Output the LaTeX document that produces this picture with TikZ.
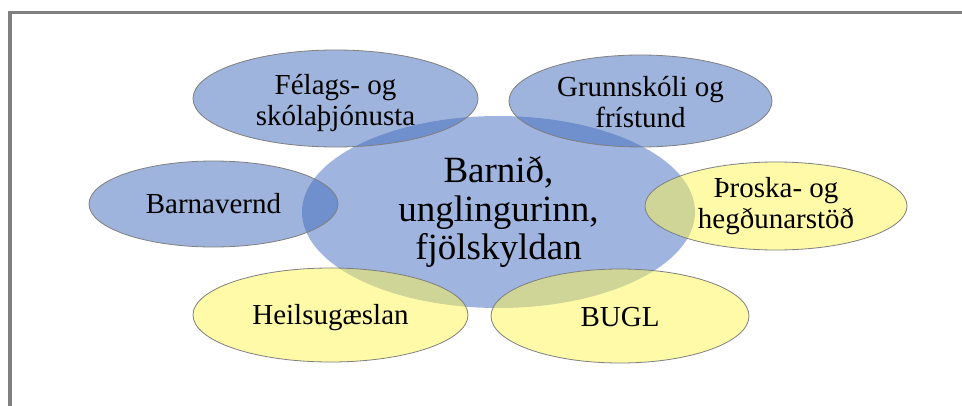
\documentclass[tikz,border=0pt]{standalone}
\usepackage{fontspec}
\setmainfont{Liberation Serif}
\usetikzlibrary{shapes.geometric}
\definecolor{framegray}{HTML}{808080}
\definecolor{centerblue}{HTML}{9FB4DE}
\definecolor{outerblue}{HTML}{416BBD}
\definecolor{outeryellow}{HTML}{FFF752}
\definecolor{edgegray}{HTML}{7F7F7F}
\begin{document}
\begin{tikzpicture}[x=1pt,y=-1pt,
  outer/.style={ellipse, draw=edgegray, line width=0.8pt, fill opacity=0.5, inner sep=0pt},
  blueout/.style={outer, fill=outerblue},
  yellowout/.style={outer, fill=outeryellow},
  outertext/.style={align=center, inner sep=0pt, font=\fontsize{29}{31}\selectfont},
  hubshape/.style={ellipse, fill=centerblue, inner sep=0pt},
  hubtext/.style={align=center, inner sep=0pt, font=\fontsize{37}{38.5}\selectfont}]
\useasboundingbox (0,0) rectangle (962,405);
\clip (0,0) rectangle (962,405);
\fill[white] (0,0) rectangle (962,405);
\draw[framegray, line width=3.5pt] (10,12.5) rectangle (1010,460);
\node[hubshape, minimum width=393pt, minimum height=192pt] (hub) at (498.5,212) {};
\node[blueout, minimum width=285pt, minimum height=97pt] (felags) at (335.5,98.5) {};
\node[blueout, minimum width=263pt, minimum height=92pt] (grunn) at (640.5,101) {};
\node[blueout, minimum width=249pt, minimum height=86pt] (barna) at (213.5,204) {};
\node[yellowout, minimum width=262pt, minimum height=88pt] (throska) at (776,206) {};
\node[yellowout, minimum width=275pt, minimum height=94pt] (heilsu) at (330.5,315) {};
\node[yellowout, minimum width=258pt, minimum height=94pt] (bugl) at (620,316) {};
\node[outertext] (felagst) at ([yshift=-5pt]felags) {Félags- og\\skólaþjónusta};
\node[outertext] (grunnt) at ([yshift=-1pt]grunn) {Grunnskóli og\\frístund};
\node[outertext] (barnat) at (barna) {Barnavernd};
\node[outertext] (throskat) at (throska) {Þroska- og\\hegðunarstöð};
\node[outertext] (heilsut) at ([yshift=-3pt]heilsu) {Heilsugæslan};
\node[outertext] (buglt) at ([yshift=-1pt]bugl) {BUGL};
\node[hubtext] (hublabel) at (hub) {Barnið,\\unglingurinn,\\fjölskyldan};
\end{tikzpicture}
\end{document}
